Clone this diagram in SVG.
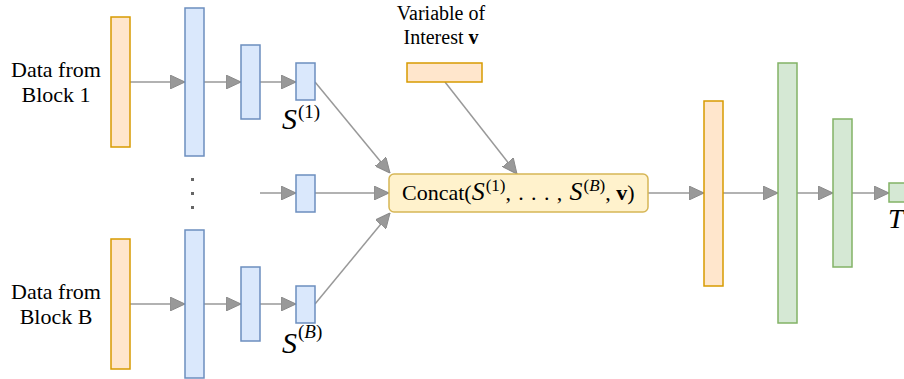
<svg xmlns="http://www.w3.org/2000/svg" width="904" height="379" viewBox="0 0 904 379">
<defs>
<style>
.or{fill:#ffe6cc;stroke:#d79b00;stroke-width:1.5}
.bl{fill:#dae8fc;stroke:#6c8ebf;stroke-width:1.5}
.gr{fill:#d5e8d4;stroke:#82b366;stroke-width:1.5}
.cc{fill:#fff2cc;stroke:#d6b656;stroke-width:1.5}
.t{font-family:"Liberation Serif","Times New Roman",serif;font-size:20px;fill:#000}
.d{font-size:22px}
.m{font-family:"Liberation Serif","Times New Roman",serif;fill:#000}
.e{stroke:#999999;stroke-width:1.5;fill:none;marker-end:url(#ah)}
.dot{fill:#666666}
</style>
<marker id="ah" viewBox="0 0 15 14" refX="15" refY="7" markerWidth="15" markerHeight="14" markerUnits="userSpaceOnUse" orient="auto">
<path d="M0,0 L15,7 L0,14 Z" fill="#999999" stroke="#8a8a8a" stroke-width="1"/>
</marker>
</defs>
<rect width="904" height="379" fill="#ffffff"/>

<g id="connectors">
<line class="e" x1="130" y1="82" x2="185" y2="82"/>
<line class="e" x1="204" y1="82" x2="241" y2="82"/>
<line class="e" x1="260" y1="82" x2="296" y2="82"/>
<line class="e" x1="130" y1="304" x2="185" y2="304"/>
<line class="e" x1="204" y1="304" x2="241" y2="304"/>
<line class="e" x1="260" y1="304" x2="296" y2="304"/>
<line class="e" x1="260" y1="193" x2="296" y2="193"/>
<line class="e" x1="315" y1="193" x2="389" y2="193"/>
<line class="e" x1="315" y1="82" x2="390" y2="173"/>
<line class="e" x1="445" y1="82" x2="517" y2="174"/>
<line class="e" x1="315" y1="304" x2="390" y2="213"/>
<line class="e" x1="648" y1="193" x2="704" y2="193"/>
<line class="e" x1="723" y1="193" x2="778" y2="193"/>
<line class="e" x1="797" y1="193" x2="833" y2="193"/>
<line class="e" x1="852" y1="193" x2="889" y2="193"/>
</g>

<g id="label-block1"><text class="t d" x="56" y="77" text-anchor="middle">Data from</text><text class="t d" x="56" y="102" text-anchor="middle">Block 1</text></g>
<g id="label-blockB"><text class="t d" x="56" y="299" text-anchor="middle">Data from</text><text class="t d" x="56" y="324" text-anchor="middle">Block B</text></g>

<g id="in1"><rect class="or" x="111" y="17" width="19" height="130"/></g>
<g id="h1a"><rect class="bl" x="185" y="8" width="19" height="148"/></g>
<g id="h1b"><rect class="bl" x="241" y="45" width="19" height="74"/></g>
<g id="s1"><rect class="bl" x="296" y="63" width="19" height="37"/>
<text class="m" x="282" y="129"><tspan font-style="italic" font-size="30">S</tspan><tspan font-size="19" dx="1" dy="-11">(1)</tspan></text></g>

<g id="dots"><rect class="dot" x="191" y="178" width="3" height="3"/><rect class="dot" x="191" y="192" width="3" height="3"/><rect class="dot" x="191" y="206" width="3" height="3"/></g>
<g id="smid"><rect class="bl" x="296" y="175" width="19" height="37"/></g>

<g id="inB"><rect class="or" x="111" y="239" width="19" height="130"/></g>
<g id="hBa"><rect class="bl" x="185" y="230" width="19" height="148"/></g>
<g id="hBb"><rect class="bl" x="241" y="267" width="19" height="74"/></g>
<g id="sB"><rect class="bl" x="296" y="286" width="19" height="37"/>
<text class="m" x="282" y="353"><tspan font-style="italic" font-size="30">S</tspan><tspan font-size="19" dx="1" dy="-15">(<tspan font-style="italic">B</tspan>)</tspan></text></g>

<g id="var"><text class="t" x="441" y="20" text-anchor="middle">Variable of</text><text class="t" x="441" y="44" text-anchor="middle">Interest <tspan font-weight="bold">v</tspan></text>
<rect class="or" x="407" y="63" width="75" height="19"/></g>

<g id="concat"><rect class="cc" x="389" y="174" width="259" height="38" rx="5"/>
<text class="m" x="402" y="200" font-size="22">Concat(<tspan font-style="italic" font-size="26">S</tspan><tspan font-size="17" dx="1" dy="-9">(1)</tspan><tspan dy="9" letter-spacing="0.9">, . . . , </tspan><tspan font-style="italic" font-size="26">S</tspan><tspan font-size="17" dx="1" dy="-9">(<tspan font-style="italic">B</tspan>)</tspan><tspan dy="9">, </tspan><tspan font-weight="bold">v</tspan>)</text></g>

<g id="o1"><rect class="or" x="704" y="101" width="19" height="185"/></g>
<g id="g1"><rect class="gr" x="778" y="63" width="19" height="260"/></g>
<g id="g2"><rect class="gr" x="833" y="119" width="19" height="148"/></g>
<g id="t"><rect class="gr" x="889" y="183" width="37" height="19"/>
<text class="m" x="888" y="228" font-style="italic" font-size="28">T</text></g>
</svg>
